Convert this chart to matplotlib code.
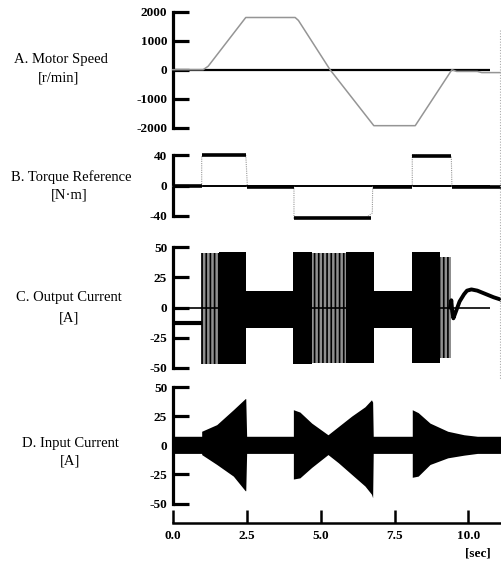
import matplotlib
matplotlib.use("Agg")
import matplotlib.pyplot as plt
import numpy as np
from matplotlib.lines import Line2D

plt.rcParams['font.family'] = ['Liberation Serif', 'DejaVu Serif']
plt.rcParams['hatch.linewidth'] = 1.2

# ---------------- data ----------------
x_ticks = [0.0, 2.5, 5.0, 7.5, 10.0]
x_tick_labels = ["0.0", "2.5", "5.0", "7.5", "10.0"]
x_max = 11.1
zero_line_end = 10.73

# A. Motor speed [r/min]
speed_t = [0.0, 1.03, 1.2, 2.47, 4.14, 4.25, 5.32, 6.8, 8.2, 9.44, 9.6, 10.3, 10.45, 11.1]
speed_v = [0, 0, 120, 1800, 1800, 1700, 0, -1930, -1930, 0, -60, -60, -100, -100]
speed_ticks = [2000, 1000, 0, -1000, -2000]

# B. Torque reference [N·m]  (step levels)
torque_t = [0.0, 0.98, 0.98, 2.47, 2.52, 2.52, 4.1, 4.1, 6.55, 6.75, 6.76, 8.1, 8.1, 9.42, 9.44, 11.1]
torque_v = [-1, -1, 39, 41, 3, -2, -2, -43, -42, -36, -2, -2, 40, 38, -2, -2]
torque_levels = [(0.0, 0.98, -1), (0.98, 2.47, 40), (2.52, 4.1, -2), (4.1, 6.7, -43),
                 (6.76, 8.1, -2), (8.1, 9.42, 39), (9.44, 11.1, -2)]
torque_ticks = [40, 0, -40]

# C. Output current [A]  envelopes
out_dc_t = [0.0, 0.98]
out_dc_v = [-12.5, -12.5]
out_solid = [  # (t0, t1, upper, lower)
    (1.55, 2.49, 46, -47),
    (2.49, 4.08, 14, -17),
    (4.08, 4.72, 46, -47),
    (5.87, 6.8, 46, -46),
    (6.8, 8.1, 14, -17),
    (8.1, 9.05, 46, -46),
]
out_sparse = [
    (0.97, 1.55, 45, -47),
    (4.72, 5.87, 45, -46),
    (9.05, 9.42, 42, -42),
]
out_tail_t = [9.38, 9.42, 9.45, 9.49, 9.55, 9.7, 9.85, 9.95, 10.1, 10.3, 10.6, 10.85, 11.1]
out_tail_v = [0, 6, -3, -9, -5, 5, 11, 14, 15, 14, 11, 8.5, 6.5]
out_ticks = [50, 25, 0, -25, -50]

# D. Input current [A]  envelope
in_t = [0.0, 0.98, 0.98, 1.49, 2.05, 2.45, 2.47, 2.5, 4.08, 4.08, 4.3, 4.7, 5.25,
        5.6, 6.05, 6.5, 6.72, 6.76, 6.78, 8.1, 8.1, 8.3, 8.7, 9.3, 9.85, 10.3, 11.1]
in_up = [7.7, 7.7, 12, 17.7, 30.5, 40, 40, 7.7, 7.7, 30.5, 28.5, 19, 9,
         16, 25, 33, 39, 37, 7.7, 7.7, 30.5, 28, 19, 12, 9, 7.7, 7.7]
in_lo = [-7, -7, -8, -16.5, -26.5, -39, -39, -7, -7, -29, -28, -19, -8,
         -15, -25, -35, -42, -45, -7, -7, -27.5, -26.5, -16.5, -10.8, -8.5, -7, -7]
in_ticks = [50, 25, 0, -25, -50]

labels = [("A. Motor Speed", "[r/min]"),
          ("B. Torque Reference", "[N\u00b7m]"),
          ("C. Output Current", "[A]"),
          ("D. Input Current", "[A]")]

# ---------------- layout ----------------
W, H = 501, 564
fig = plt.figure(figsize=(W / 100, H / 100), dpi=100)
left_px = 172.7

def add_ax(top_px, bot_px):
    return fig.add_axes([left_px / W, (H - bot_px) / H, (W - left_px) / W, (bot_px - top_px) / H])

axA = add_ax(11.7, 127.7)
axB = add_ax(155, 216)
axC = add_ax(247.3, 367.7)
axD = add_ax(387, 503.5)

for ax, ticks, lim in [(axA, speed_ticks, 2000), (axB, torque_ticks, 40),
                       (axC, out_ticks, 50), (axD, in_ticks, 50)]:
    ax.set_xlim(0, x_max)
    ax.set_ylim(-lim, lim)
    for s in ['top', 'right', 'bottom']:
        ax.spines[s].set_visible(False)
    ax.spines['left'].set_linewidth(2.3)
    ax.set_yticks(ticks)
    ax.set_yticklabels([str(t) for t in ticks], fontweight='bold')
    ax.tick_params(axis='y', direction='in', length=11.5, width=2.3, pad=4, labelsize=9.5)
    ax.set_xticks([])
    ax.patch.set_alpha(0)

# A
axA.hlines(0, 0, zero_line_end, color='black', lw=1.6, zorder=3)
axA.plot(speed_t, speed_v, color='#959595', lw=1.1, zorder=4, clip_on=False)

# B
axB.hlines(0, 0, zero_line_end, color='black', lw=1.4, zorder=3)
axB.plot(torque_t, torque_v, color='#9a9a9a', lw=0.8, ls=(0, (1, 1)), zorder=4, clip_on=False)
for t0, t1, v in torque_levels:
    axB.plot([t0, t1], [v, v], color='black', lw=2.6, solid_capstyle='butt', zorder=5, clip_on=False)

# C
axC.hlines(0, 0, zero_line_end, color='black', lw=1.2, zorder=5)
axC.plot(out_dc_t, out_dc_v, color='black', lw=3.0, solid_capstyle='butt', zorder=4)
for t0, t1, up, lo in out_solid:
    axC.fill_between([t0, t1], [up, up], [lo, lo], color='black', lw=0, zorder=3)
for t0, t1, up, lo in out_sparse:
    axC.fill_between([t0, t1], [up, up], [lo, lo], facecolor='#8f8f8f', edgecolor='black',
                     hatch='||||', lw=0, zorder=3)
axC.plot(out_tail_t, out_tail_v, color='black', lw=2.8, zorder=6, clip_on=False)

# D
axD.fill_between(in_t, in_up, in_lo, color='black', lw=0, zorder=3, clip_on=False)
axD.spines['bottom'].set_visible(True)
axD.spines['bottom'].set_position(('outward', 14))
axD.spines['bottom'].set_linewidth(1.8)
axD.spines['bottom'].set_bounds(0, x_max)
axD.set_xticks(x_ticks)
axD.set_xticklabels(x_tick_labels, fontweight='bold')
axD.tick_params(axis='x', direction='in', length=9.5, width=1.8, pad=5, labelsize=9.5)

# left labels
label_pos = [((61, 60), (59, 78)), ((71, 177), (69, 195)),
             ((69, 298), (69, 318)), ((70, 444), (70, 461))]
for (l1, l2), ((x1, y1), (x2, y2)) in zip(labels, label_pos):
    fig.text(x1 / W, 1 - y1 / H, l1, ha='center', va='center', fontsize=10.5)
    fig.text(x2 / W, 1 - y2 / H, l2, ha='center', va='center', fontsize=10.5)

fig.text(478 / W, 1 - 553 / H, "[sec]", ha='center', va='center', fontsize=9.5, fontweight='bold')

# scan border at the right edge
fig.add_artist(Line2D([499.5 / W, 499.5 / W], [1 - 30 / H, 1 - 380 / H], color='#aaaaaa',
                      lw=0.8, ls=(0, (1, 1.5)), transform=fig.transFigure))

fig.savefig("out.png", dpi=100)
